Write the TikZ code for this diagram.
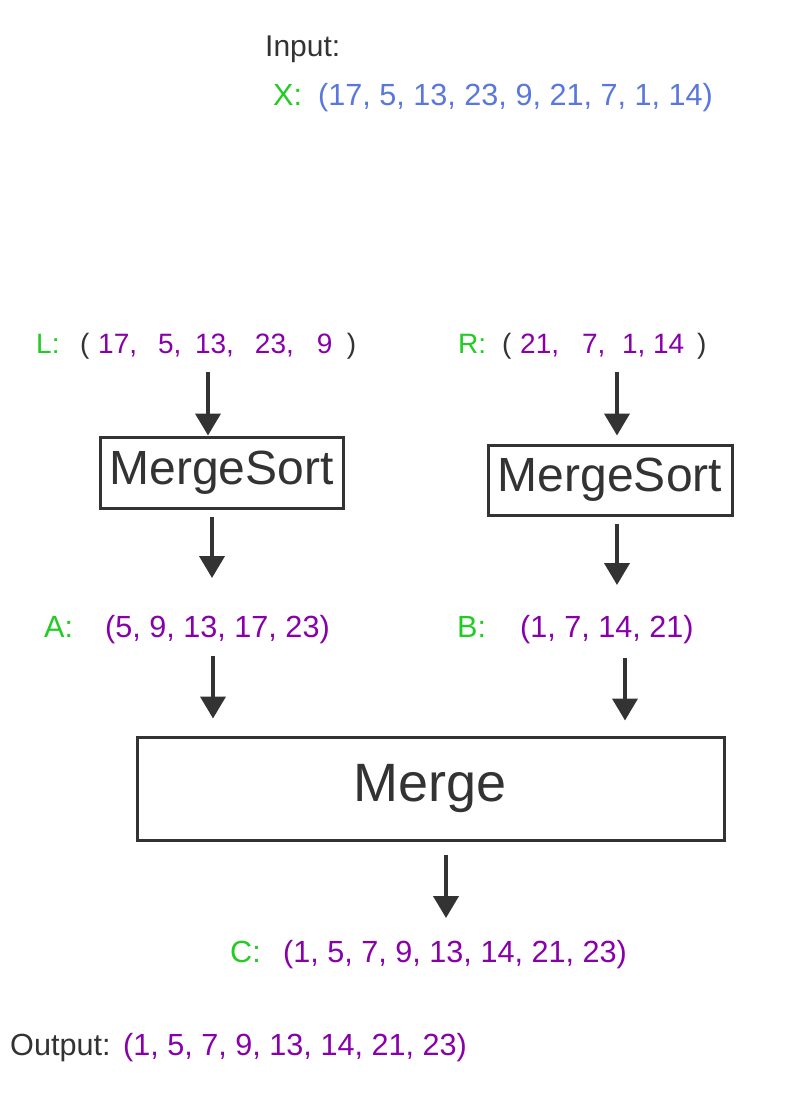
\documentclass[tikz,border=0pt]{standalone}
\usepackage{fontspec}
\setmainfont{Liberation Sans}
\usetikzlibrary{arrows.meta}
\definecolor{dunkel}{HTML}{333333}
\definecolor{gruen}{HTML}{22CC22}
\definecolor{blau}{HTML}{5A78DC}
\definecolor{lila}{HTML}{8800AA}
\tikzset{
	txt/.style={anchor=base west, inner sep=0pt, font=\fontsize{#1}{#1}\selectfont},
	txt/.default=30.6,
	pfeil/.style={draw=dunkel, line width=4pt, -{Triangle[length=22pt,width=25pt]}},
	kasten/.style={draw=dunkel, line width=3pt, inner sep=0pt, text=dunkel}
}

\begin{document}
\begin{tikzpicture}[x=1pt,y=-1pt]
\path[fill=white, use as bounding box] (0,0) rectangle (794,1120);
% input
\node[txt=30, text=dunkel] (input) at (265,56) {Input:};
\node[txt, text=gruen] (xlab) at (273,105) {X:};
\node[txt, text=blau] (xseq) at (318,105) {(17, 5, 13, 23, 9, 21, 7, 1, 14)};
% halves
\node[txt=28, text=gruen] (llab) at (36,353) {L:};
\node[txt=28, text=lila] (lseq) at (80,353) {\textcolor{dunkel}{(}\hspace{8.7pt}17,\hspace{21pt}5,\hspace{13.6pt}13,\hspace{21pt}23,\hspace{23pt}9\hspace{14.4pt}\textcolor{dunkel}{)}};
\node[txt=28, text=gruen] (rlab) at (458,353) {R:};
\node[txt=28, text=lila] (rseq) at (502,353) {\textcolor{dunkel}{(}\hspace{8.7pt}21,\hspace{23pt}7,\hspace{16.6pt}1,\hspace{7.6pt}14\hspace{13pt}\textcolor{dunkel}{)}};
% sort boxes
\node[kasten, minimum width=243pt, minimum height=71pt, font=\fontsize{48}{48}\selectfont] (sortL) at (221.5,472.5) {MergeSort};
\node[kasten, minimum width=244pt, minimum height=70pt, font=\fontsize{48}{48}\selectfont] (sortR) at (610,480) {MergeSort};
% sorted halves
\node[txt, text=gruen] (alab) at (44,637) {A:};
\node[txt, text=lila] (aseq) at (105,637) {(5, 9, 13, 17, 23)};
\node[txt, text=gruen] (blab) at (457,637) {B:};
\node[txt, text=lila] (bseq) at (520,637) {(1, 7, 14, 21)};
% merge
\node[kasten, minimum width=587pt, minimum height=103pt, font=\fontsize{54}{54}\selectfont] (merge) at (430.5,788.5) {Merge};
\node[txt, text=gruen] (clab) at (230,962) {C:};
\node[txt, text=lila] (cseq) at (283,962) {(1, 5, 7, 9, 13, 14, 21, 23)};
\node[txt, text=dunkel] (output) at (10,1055) {Output:};
\node[txt, text=lila] (oseq) at (123,1055) {(1, 5, 7, 9, 13, 14, 21, 23)};
% arrows
\coordinate (pL) at (208,372);
\coordinate (pR) at (617,372);
\coordinate (pA) at (212,578);
\coordinate (pB) at (617,585);
\coordinate (qA) at (213,656);
\coordinate (qB) at (625,658);
\coordinate (pC) at (446,918);
\draw[pfeil] (pL) -- (pL |- sortL.north);
\draw[pfeil, shorten >=8pt] (pR) -- (pR |- sortR.north);
\draw[pfeil, shorten <=7pt] (pA |- sortL.south) -- (pA);
\draw[pfeil, shorten <=7pt] (pB |- sortR.south) -- (pB);
\draw[pfeil, shorten >=17pt] (qA) -- (qA |- merge.north);
\draw[pfeil, shorten >=15pt] (qB) -- (qB |- merge.north);
\draw[pfeil, shorten <=13pt] (pC |- merge.south) -- (pC);
\end{tikzpicture}
\end{document}
